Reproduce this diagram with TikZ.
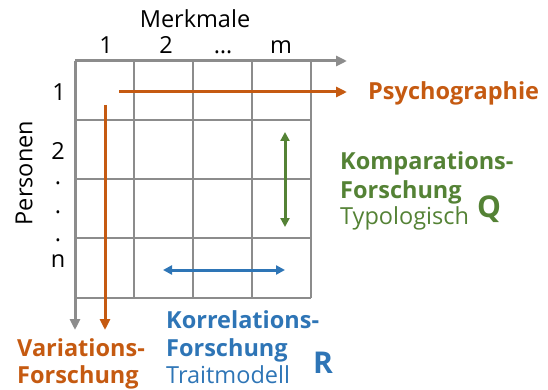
\documentclass[tikz,border=0pt]{standalone}
\usepackage{fontspec}
\setmainfont{Open Sans}
\usetikzlibrary{arrows.meta,positioning}
\definecolor{orng}{HTML}{C55A11}
\definecolor{grn}{HTML}{548235}
\definecolor{blu}{HTML}{2E75B6}
\definecolor{gry}{HTML}{8C8C8C}

\begin{document}
\begin{tikzpicture}[x=1pt,y=-1pt,>={Triangle[length=11pt,width=10pt]},
  every node/.style={font=\fontsize{23.5}{28}\selectfont,inner sep=0pt},
  gridline/.style={gry,line width=2.5pt},
  axis/.style={gry,line width=3pt,->},
  flow/.style={line width=3pt,->},
  both/.style={line width=3pt,<->,>={Triangle[length=9pt,width=9pt]}},
  head/.style={anchor=base west,font=\fontsize{23.5}{28}\selectfont\bfseries},
  sub/.style={anchor=base west},
  big/.style={anchor=base west,font=\fontsize{30}{32}\selectfont\bfseries}]
  \useasboundingbox (0,0) rectangle (548,390);
  % Gitter
  \foreach \x in {134,193,252,311} \draw[gridline] (\x,61) -- (\x,298);
  \foreach \y in {120,179,238,298} \draw[gridline] (75,\y) -- (311,\y);
  \coordinate (origin) at (75,61);
  \coordinate (xend) at (347,61);
  \coordinate (yend) at (75,330);
  \draw[axis] (origin) -- (xend);
  \draw[axis] (origin) -- (yend);

  \node[anchor=base] (merk) at (195,28) {Merkmale};
  \node[anchor=base] (c1) at (106,54) {1};
  \node[anchor=base] (c2) at (166,54) {2};
  \node[anchor=base] (c3) at (223,54) {…};
  \node[anchor=base] (cm) at (281,54) {m};
  \node (r1) at (59,92) {1};
  \node (r2) at (58,151) {2};
  \foreach \y in {183,212,240} \node at (58,\y) {.};
  \node (rn) at (58,261) {n};
  \node[rotate=90] (pers) at (24,173) {Personen};

  % Pfeile
  \coordinate (psyA) at (119,92);
  \coordinate (varA) at (105,105);
  \node[head,anchor=west,text=orng] (psy) at (368,93) {Psychographie};
  \coordinate (psyB) at (347,92);
  \coordinate (varB) at (105,330);
  \draw[flow,orng] (psyA) -- (psyB);
  \draw[flow,orng] (varA) -- (varB);
  \coordinate (kA) at (285,132);
  \coordinate (kB) at (285,227);
  \draw[both,grn] (kA) -- (kB);
  \coordinate (bA) at (163,270);
  \coordinate (bB) at (285,270);
  \draw[both,blu] (bA) -- (bB);

  % Beschriftungen
  \node[head,text=grn] (komp) at (340,170) {Komparations-};
  \node[head,text=grn] (kompF) at (340,198) {Forschung};
  \node[sub,text=grn] (typo) at (340,224) {Typologisch};
  \node[big,text=grn] (Q) at (477,217) {Q};

  \node[head,text=blu] (korr) at (166,328) {Korrelations-};
  \node[head,text=blu] (korrF) at (166,356) {Forschung};
  \node[sub,text=blu] (trait) at (166,383) {Traitmodell};
  \node[big,text=blu] (R) at (313,373) {R};

  \node[head,text=orng] (var) at (17,356) {Variations-};
  \node[head,text=orng] (varF) at (17,383) {Forschung};
\end{tikzpicture}
\end{document}
